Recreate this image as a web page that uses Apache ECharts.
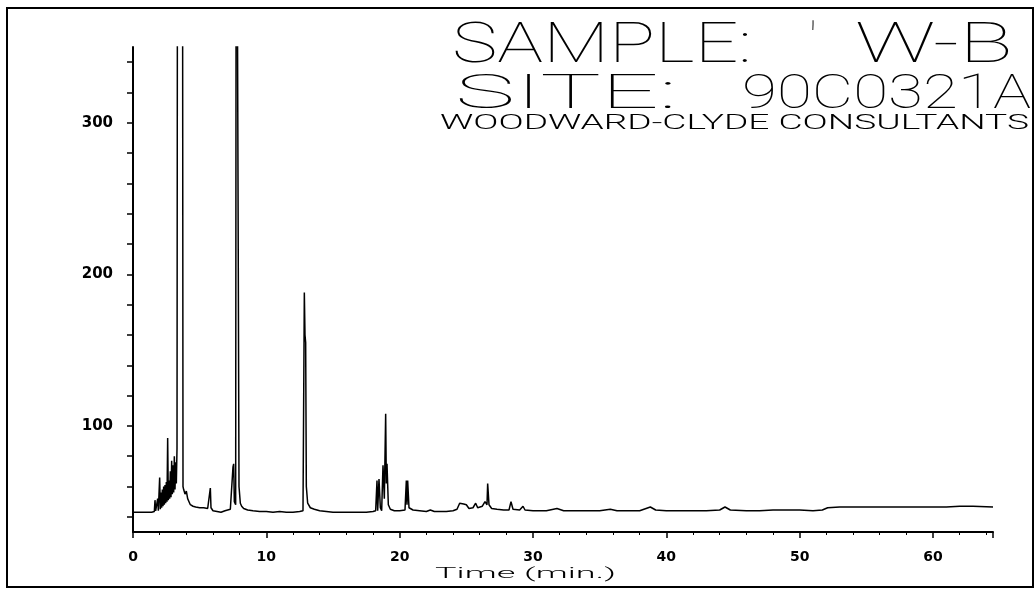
<!DOCTYPE html>
<html>
<head>
<meta charset="utf-8">
<title>Chromatogram W-B</title>
<script src="https://cdn.jsdelivr.net/npm/echarts@6/dist/echarts.min.js"></script>
<style>
  html, body { margin: 0; padding: 0; background: #fff; }
  #chart { width: 1036px; height: 591px; }
</style>
</head>
<body>
<div id="chart"></div>
<script>
// retention time (min) and detector response
const retentionTimes = [
  0.0, 0.5, 1.0, 1.4, 1.5, 1.6, 1.65, 1.7,
  1.8, 1.85, 1.9, 1.95, 2.0, 2.05, 2.1, 2.15, 2.2, 2.25, 2.3, 2.35, 2.4, 2.45, 2.5, 2.55,
  2.6, 2.65, 2.7, 2.75, 2.8, 2.85, 2.9, 2.95, 3.0, 3.05, 3.1, 3.15, 3.2, 3.25, 3.3,
  3.35, 3.7, 3.75, 3.8, 3.9, 4.0, 4.1, 4.2, 4.3, 4.5, 4.7, 5.0, 5.3, 5.6, 5.75,
  5.8, 5.85, 6.0, 6.3, 6.6, 6.9, 7.1, 7.3, 7.45, 7.5, 7.55, 7.6, 7.7, 7.75, 7.9, 7.95, 8.05, 8.15,
  8.3, 8.6, 9.0, 9.5, 10.0, 10.5, 11.0, 11.5, 12.0, 12.5, 12.75, 12.85, 12.9, 12.95, 13.0, 13.1,
  13.3, 13.6, 14.0, 14.5, 15.0, 16.0, 17.0, 17.5, 18.0, 18.2, 18.3, 18.35, 18.45, 18.55, 18.65,
  18.75, 18.85, 18.95, 19.0, 19.05, 19.15, 19.3, 19.6, 20.0, 20.4, 20.5, 20.55, 20.6, 20.7, 21.0,
  21.5, 22.0, 22.3, 22.6, 23.0, 23.5, 24.0, 24.3, 24.5, 24.8, 25.0, 25.2, 25.5, 25.7, 25.85, 26.2,
  26.4, 26.55, 26.6, 26.7, 26.9, 27.3, 27.8, 28.2, 28.35, 28.5, 29.0, 29.25, 29.4, 30.0, 31.0,
  31.8, 32.3, 33.0, 34.0, 35.0, 35.8, 36.3, 37.0, 38.0, 38.8, 39.2, 40.0, 41.0, 42.0, 43.0, 44.0,
  44.4, 44.8, 46.0, 47.0, 48.0, 49.0, 50.0, 51.0, 51.7, 52.1, 53.0, 55.0, 57.0, 59.0, 61.0, 62.0,
  63.0, 64.5
];
const responses = [
  43, 43, 43, 43, 44, 43.5, 51, 44,
  45, 52, 44, 55, 66, 45, 56, 46, 58, 47, 60, 48, 61, 49, 63, 50,
  92, 51, 64, 52, 70, 53, 77, 55, 74, 56, 80, 58, 76, 62, 85,
  600, 600, 60, 58, 55, 57, 52, 50, 48, 47, 46.5, 46, 46, 45.5, 46,
  59, 46, 44, 43.5, 43, 44, 44.5, 45, 45, 73, 75, 50, 48, 600, 600, 60, 49, 47,
  45.5, 44.5, 44, 43.5, 43.5, 43, 43.5, 43, 43, 43.5, 44, 188, 160, 155, 60, 49,
  46, 45, 44, 43.5, 43, 43, 43, 43, 43.5, 44, 64, 44, 65, 46, 44,
  74, 52, 108, 62, 75, 48, 45, 44, 44, 44.5, 64, 48, 64, 46, 44.5,
  44, 43.5, 44.5, 43.5, 43.5, 43.5, 44, 45, 49, 48.5, 48, 45.5, 46, 49, 46, 47,
  50, 48, 62, 48, 45.5, 45, 44.5, 44.5, 50, 45, 44.5, 47, 44.5, 44, 44,
  45.5, 44, 44, 44, 44, 45, 44, 44, 44, 46.5, 44.5, 44, 44, 44, 44, 44.5,
  46.5, 44.5, 44, 44, 44.5, 44.5, 44.5, 44, 44.5, 46, 46.5, 46.5, 46.5, 46.5, 46.5, 47,
  47, 46.5
];
const yTickValues = [40, 60, 80, 100, 120, 140, 160, 180, 200, 220, 240, 260, 280, 300, 320, 340];
const yLabelValues = [100, 200, 300];

const chart = echarts.init(document.getElementById('chart'));

// stretch plotter-style lettering to the width it takes on the page
const measureCtx = document.createElement('canvas').getContext('2d');
function plotterText(str, font, left, right, midY) {
  measureCtx.font = font;
  const w = measureCtx.measureText(str).width;
  return {
    type: 'text',
    x: left,
    y: midY,
    scaleX: (right - left) / w,
    silent: true,
    style: {
      text: str,
      font: font,
      fill: '#000',
      textAlign: 'left',
      textVerticalAlign: 'middle',
      verticalAlign: 'middle'
    }
  };
}

const bigFont = '100 55px Roboto';
const midFont = '100 49px Roboto';
const smallFont = '300 20px Roboto';

const option = {
  animation: false,
  backgroundColor: '#fff',
  grid: { left: 133, right: 43, top: 47, bottom: 59 },
  xAxis: {
    type: 'value',
    min: 0,
    max: 64.5,
    interval: 10,
    axisLine: { show: true, onZero: false, lineStyle: { color: '#000', width: 2 } },
    axisTick: { show: true, length: 6, lineStyle: { color: '#000', width: 1.5 } },
    minorTick: { show: true, splitNumber: 5, length: 3, lineStyle: { color: '#000', width: 1 } },
    axisLabel: {
      color: '#000',
      fontFamily: 'DejaVu Sans',
      fontWeight: 'bold',
      fontSize: 14,
      margin: 18,
      showMaxLabel: false
    },
    splitLine: { show: false }
  },
  yAxis: {
    type: 'value',
    min: 30,
    max: 350,
    axisLine: { show: true, onZero: false, lineStyle: { color: '#000', width: 2 } },
    axisTick: { show: true, length: 6, customValues: yTickValues, lineStyle: { color: '#000', width: 1.5 } },
    axisLabel: {
      customValues: yLabelValues,
      color: '#000',
      fontFamily: 'DejaVu Sans',
      fontWeight: 'bold',
      fontSize: 15,
      margin: 20
    },
    splitLine: { show: false }
  },
  series: [
    {
      type: 'line',
      data: retentionTimes.map((t, i) => [t, responses[i]]),
      symbol: 'none',
      clip: true,
      lineStyle: { color: '#000', width: 1.5 }
    }
  ],
  graphic: [
    {
      type: 'rect',
      silent: true,
      shape: { x: 7, y: 8, width: 1026, height: 579 },
      style: { fill: 'none', stroke: '#000', lineWidth: 2 }
    },
    plotterText('SAMPLE:', bigFont, 452, 752, 48),
    plotterText("'", midFont, 810, 816, 44),
    plotterText('W-B', bigFont, 855, 1013, 48),
    plotterText('SITE:', midFont, 455, 677, 96),
    plotterText('90C0321A', midFont, 742, 1031, 96),
    plotterText('WOODWARD-CLYDE CONSULTANTS', smallFont, 440, 1029, 124),
    plotterText('Time (min.)', '300 15px Roboto', 435, 616, 574)
  ]
};

chart.setOption(option);
</script>
</body>
</html>
